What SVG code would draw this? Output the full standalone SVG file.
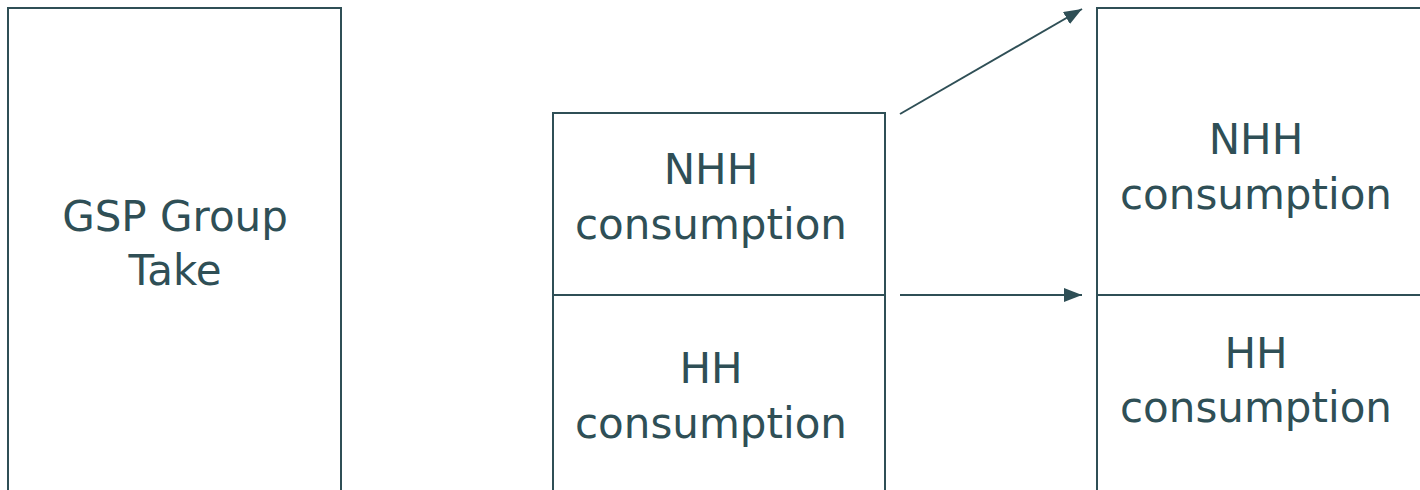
<svg xmlns="http://www.w3.org/2000/svg" width="1420" height="490" viewBox="0 0 1420 490">
  <style>
    .box { fill: #ffffff; stroke: #2F4F56; stroke-width: 2; }
    .lbl { font-family: "DejaVu Sans", Verdana, sans-serif; font-size: 42px; fill: #2F4F56; text-anchor: middle; }
    .conn { stroke: #2F4F56; stroke-width: 2; fill: none; }
  </style>
  <defs>
    <marker id="arrow" viewBox="0 0 18 14" refX="18" refY="7" markerWidth="18" markerHeight="14" markerUnits="userSpaceOnUse" orient="auto">
      <path d="M0,0 L18,7 L0,14 Z" fill="#2F4F56"/>
    </marker>
  </defs>
  <rect width="1420" height="490" fill="#ffffff"/>
  <g id="gsp-group-take">
    <rect class="box" x="8" y="8" width="333" height="500"/>
    <text class="lbl" x="175" y="231">GSP Group</text>
    <text class="lbl" x="175" y="285">Take</text>
  </g>
  <g id="nhh-left">
    <rect class="box" x="553" y="113" width="332" height="182"/>
    <text class="lbl" x="711" y="184">NHH</text>
    <text class="lbl" x="711" y="239">consumption</text>
  </g>
  <g id="hh-left">
    <rect class="box" x="553" y="295" width="332" height="213"/>
    <text class="lbl" x="711" y="383">HH</text>
    <text class="lbl" x="711" y="438">consumption</text>
  </g>
  <g id="nhh-right">
    <rect class="box" x="1097" y="8" width="340" height="287"/>
    <text class="lbl" x="1256" y="154">NHH</text>
    <text class="lbl" x="1256" y="209">consumption</text>
  </g>
  <g id="hh-right">
    <rect class="box" x="1097" y="295" width="340" height="213"/>
    <text class="lbl" x="1256" y="368">HH</text>
    <text class="lbl" x="1256" y="422">consumption</text>
  </g>
  <g id="connectors">
    <line class="conn" x1="900" y1="114" x2="1082" y2="9" marker-end="url(#arrow)"/>
    <line class="conn" x1="900" y1="295" x2="1082" y2="295" marker-end="url(#arrow)"/>
  </g>
</svg>
